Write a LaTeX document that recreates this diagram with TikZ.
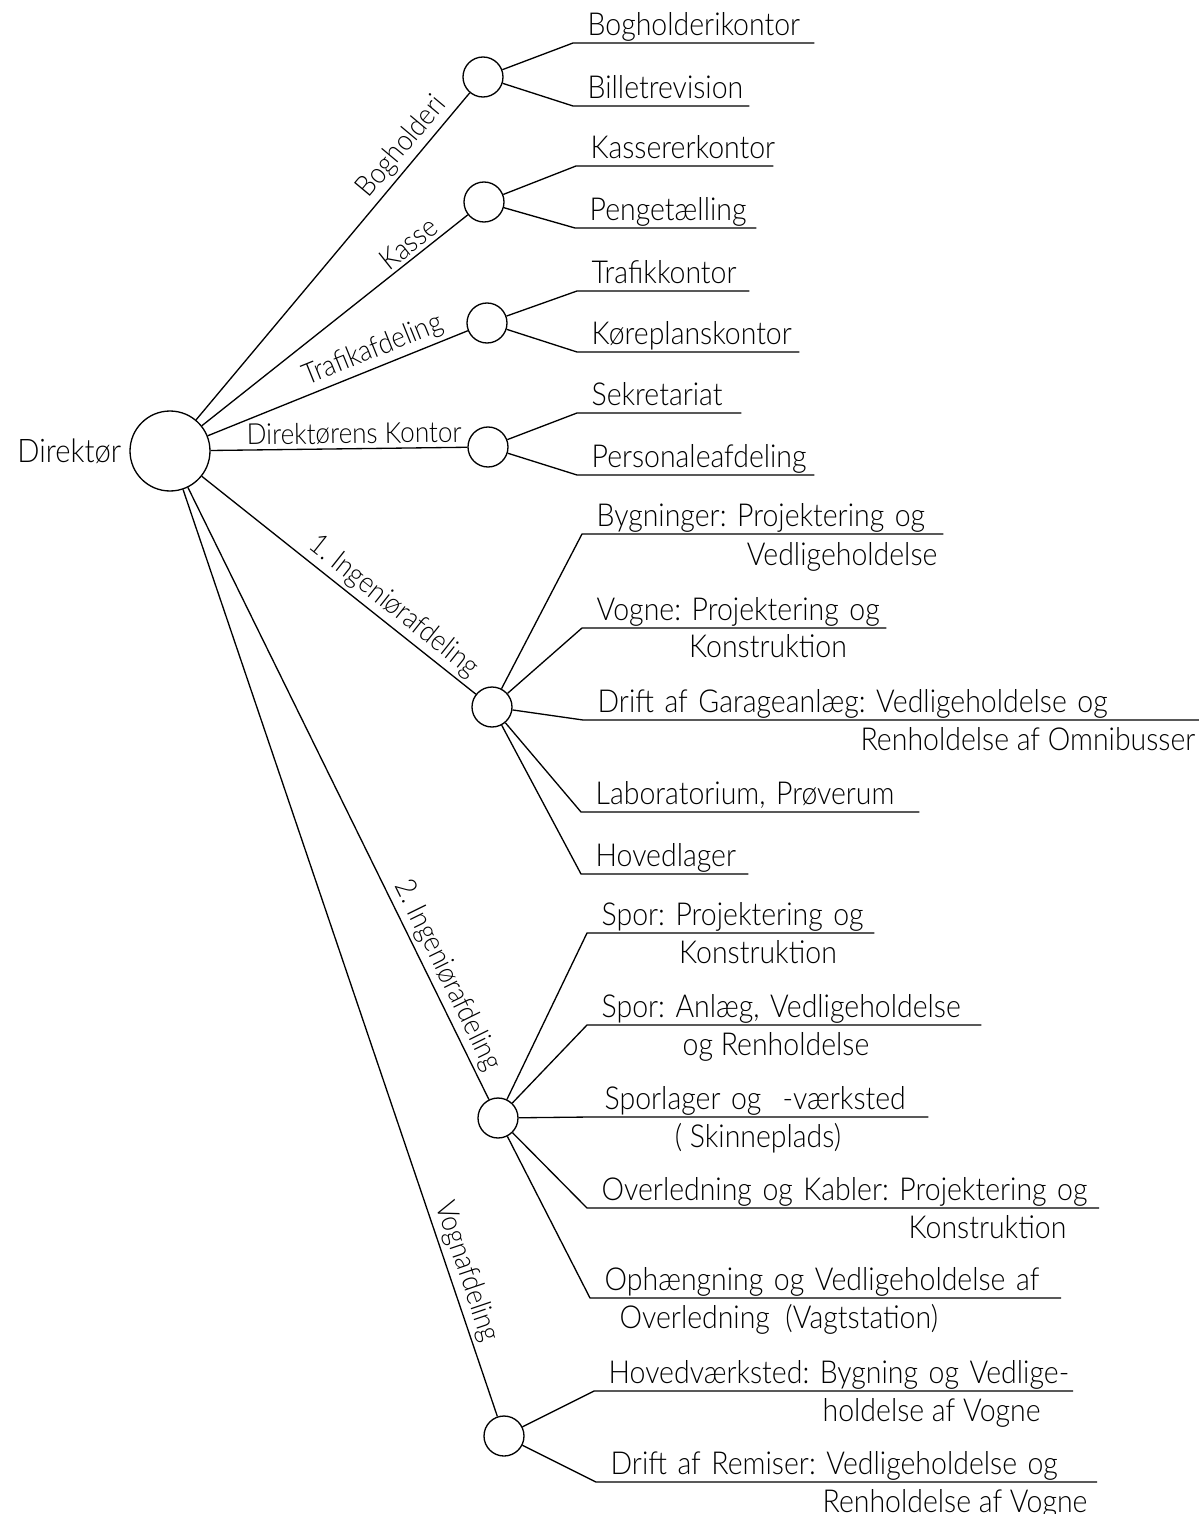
\documentclass[tikz,border=0pt]{standalone}
\usepackage{fontspec}
\setmainfont{Lato Light}[FakeStretch=0.9]
\usetikzlibrary{positioning}
\newcommand{\txtsize}{\fontsize{18pt}{22pt}\selectfont\frenchspacing}
\newcommand{\brsize}{\fontsize{16.5pt}{20pt}\selectfont\frenchspacing}

\begin{document}
\begin{tikzpicture}[x=0.02cm,y=-0.02cm,line width=0.75pt,font=\txtsize,
  hub/.style={circle,draw,minimum size=0.8cm,inner sep=0pt},
  boss/.style={circle,draw,minimum size=1.6cm,inner sep=0pt},
  leaf/.style={anchor=south west,inner xsep=0pt,inner ysep=0pt,text depth=0.13cm,
    align=left,text width=#1,execute at begin node={\hspace*{0.28cm}\hbox\bgroup},
    execute at end node={\egroup}},
  branch/.style={sloped,above,inner sep=2pt,font=\brsize}]
\useasboundingbox (0,0) rectangle (1199,1514);

\node[boss] (dir) at (170,451) {};
\node[left=1pt of dir,font=\fontsize{18.5pt}{22pt}\selectfont] (dirname) {Direktør};

\node[hub] (bog) at (483,77) {};
\node[hub] (kas) at (484,202) {};
\node[hub] (trf) at (487,323) {};
\node[hub] (dko) at (488,447) {};
\node[hub] (ing1) at (492,707) {};
\node[hub] (ing2) at (498,1118) {};
\node[hub] (vogn) at (504,1436) {};

\draw (dir) -- node[branch,pos=0.80] {Bogholderi} (bog);
\draw (dir) -- node[branch,pos=0.81] {Kasse} (kas);
\draw (dir) -- node[branch,pos=0.66] {Trafikafdeling} (trf);
\draw (dir) -- node[branch,pos=0.56] {Direktørens Kontor} (dko);
\draw (dir) -- node[branch,pos=0.66] {1. Ingeniørafdeling} (ing1);
\draw (dir) -- node[branch,pos=0.81] {2. Ingeniørafdeling} (ing2);
\draw (dir) -- node[branch,pos=0.85] {Vognafdeling} (vogn);

\node[leaf=4.8cm] (bog1) at (573,43) {Bogholderikontor};
\node[leaf=3.5cm] (bog2) at (573,106) {Billetrevision};
\node[leaf=3.92cm] (kas1) at (576,166) {Kassererkontor};
\node[leaf=3.6cm] (kas2) at (575,228) {Pengetælling};
\node[leaf=3.42cm] (trf1) at (577,291) {Trafikkontor};
\node[leaf=4.42cm] (trf2) at (577,352) {Køreplanskontor};
\node[leaf=3.26cm] (dko1) at (577,413) {Sekretariat};
\node[leaf=4.72cm] (dko2) at (577,475) {Personaleafdeling};

\node[leaf=7.2cm] (byg) at (582,534) {Bygninger: Projektering og};
\node[anchor=base east,inner sep=0pt] (byg2) at (938,565) {Vedligeholdelse};
\node[leaf=6.06cm] (vog) at (582,628) {Vogne: Projektering og};
\node[anchor=base,inner sep=0pt] (vog2) at (768,657) {Konstruktion};
\node[leaf=12.32cm] (gar) at (583,720) {Drift af Garageanlæg: Vedligeholdelse og};
\node[anchor=base east,inner sep=0pt] (gar2) at (1196,750) {Renholdelse af Omnibusser};
\node[leaf=6.74cm] (lab) at (581,812) {Laboratorium, Prøverum};
\node[leaf=3.32cm] (hov) at (581,874) {Hovedlager};

\node[leaf=5.72cm] (sp1) at (587,933) {Spor: Projektering og};
\node[anchor=base,inner sep=0pt] (sp12) at (758,963) {Konstruktion};
\node[leaf=7.86cm] (sp2) at (587,1025) {Spor: Anlæg, Vedligeholdelse};
\node[anchor=base,inner sep=0pt] (sp22) at (776,1055) {og Renholdelse};
\node[leaf=6.74cm] (spl) at (590,1117) {Sporlager og \ -værksted};
\node[anchor=base,inner sep=0pt] (spl2) at (758,1147) {( Skinneplads)};
\node[leaf=10.22cm] (ovl) at (587,1208) {Overledning og Kabler: Projektering og};
\node[anchor=base east,inner sep=0pt] (ovl2) at (1067,1238) {Konstruktion};
\node[leaf=9.4cm] (oph) at (590,1298) {Ophængning og Vedligeholdelse af};
\node[anchor=base west,inner sep=0pt] (oph2) at (619,1328) {Overledning \ (Vagtstation)};

\node[leaf=9.56cm] (hvv) at (594,1391) {Hovedværksted: Bygning og Vedlige-};
\node[anchor=base west,inner sep=0pt] (hvv2) at (822,1421) {holdelse af Vogne};
\node[leaf=10cm] (rem) at (596,1482) {Drift af Remiser: Vedligeholdelse og};
\node[anchor=base west,inner sep=0pt] (rem2) at (822,1512) {Renholdelse af Vogne};

\draw (bog) -- (bog1.south west) -- (bog1.south east);
\draw (bog) -- (bog2.south west) -- (bog2.south east);
\draw (kas) -- (kas1.south west) -- (kas1.south east);
\draw (kas) -- (kas2.south west) -- (kas2.south east);
\draw (trf) -- (trf1.south west) -- (trf1.south east);
\draw (trf) -- (trf2.south west) -- (trf2.south east);
\draw (dko) -- (dko1.south west) -- (dko1.south east);
\draw (dko) -- (dko2.south west) -- (dko2.south east);

\draw (ing1) -- (byg.south west) -- (byg.south east);
\draw (ing1) -- (vog.south west) -- (vog.south east);
\draw (ing1) -- (gar.south west) -- (gar.south east);
\draw (ing1) -- (lab.south west) -- (lab.south east);
\draw (ing1) -- (hov.south west) -- (hov.south east);

\draw (ing2) -- (sp1.south west) -- (sp1.south east);
\draw (ing2) -- (sp2.south west) -- (sp2.south east);
\draw (ing2) -- (spl.south west) -- (spl.south east);
\draw (ing2) -- (ovl.south west) -- (ovl.south east);
\draw (ing2) -- (oph.south west) -- (oph.south east);

\draw (vogn) -- (hvv.south west) -- (hvv.south east);
\draw (vogn) -- (rem.south west) -- (rem.south east);
\end{tikzpicture}
\end{document}
